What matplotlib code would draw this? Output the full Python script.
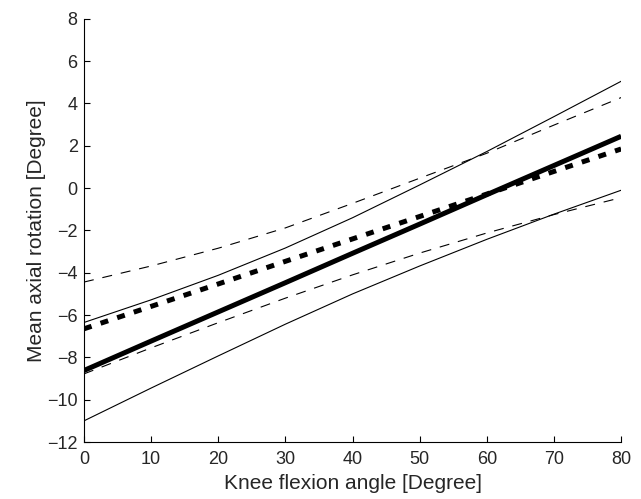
import numpy as np
import matplotlib
matplotlib.use("Agg")
import matplotlib.pyplot as plt

plt.rcParams['font.family'] = ['Liberation Sans', 'DejaVu Sans']
plt.rcParams['font.size'] = 13
plt.rcParams['text.color'] = '#262626'
plt.rcParams['xtick.labelcolor'] = '#262626'
plt.rcParams['ytick.labelcolor'] = '#262626'
plt.rcParams['axes.labelcolor'] = '#262626'

# values at every 10 degrees of knee flexion
flexion = [0, 10, 20, 30, 40, 50, 60, 70, 80]

mean_a = [-8.62, -7.23, -5.85, -4.47, -3.08, -1.70, -0.31, 1.07, 2.45]
upper_a = [-6.35, -5.28, -4.12, -2.83, -1.40, 0.15, 1.73, 3.38, 5.05]
lower_a = [-11.0, -9.45, -7.93, -6.43, -5.0, -3.68, -2.42, -1.23, -0.1]

mean_b = [-6.65, -5.59, -4.53, -3.46, -2.40, -1.34, -0.28, 0.79, 1.85]
upper_b = [-4.44, -3.68, -2.84, -1.88, -0.72, 0.47, 1.65, 2.98, 4.28]
lower_b = [-8.78, -7.55, -6.36, -5.2, -4.1, -3.07, -2.12, -1.25, -0.45]

xticks = [0, 10, 20, 30, 40, 50, 60, 70, 80]
yticks = [-12, -10, -8, -6, -4, -2, 0, 2, 4, 6, 8]

fig = plt.figure(figsize=(6.41, 4.99), dpi=100)
ax = fig.add_axes([0.131, 0.1142, 0.838, 0.848])

ax.plot(flexion, upper_a, color="black", linewidth=0.8)
ax.plot(flexion, lower_a, color="black", linewidth=0.8)
ax.plot(flexion, upper_b, color="black", linewidth=0.8, dashes=(9, 8))
ax.plot(flexion, lower_b, color="black", linewidth=0.8, dashes=(9, 8))
ax.plot(flexion, mean_a, color="black", linewidth=3.6, solid_capstyle="butt")
ax.plot(flexion, mean_b, color="black", linewidth=3.6, dashes=(1.6, 1.9))

ax.set_xlim(0, 80)
ax.set_ylim(-12, 8)
ax.set_xticks(xticks)
ax.set_yticks(yticks)
ax.spines["top"].set_visible(False)
ax.spines["right"].set_visible(False)
ax.tick_params(direction="in", length=4, width=0.8, labelsize=13)
ax.tick_params(axis="x", pad=6.5)
ax.tick_params(axis="y", pad=4.5)

ax.set_xlabel("Knee flexion angle [Degree]", fontsize=15, labelpad=4)
ax.set_ylabel("Mean axial rotation [Degree]", fontsize=15, labelpad=0.5)

fig.savefig("out.png", dpi=100)
